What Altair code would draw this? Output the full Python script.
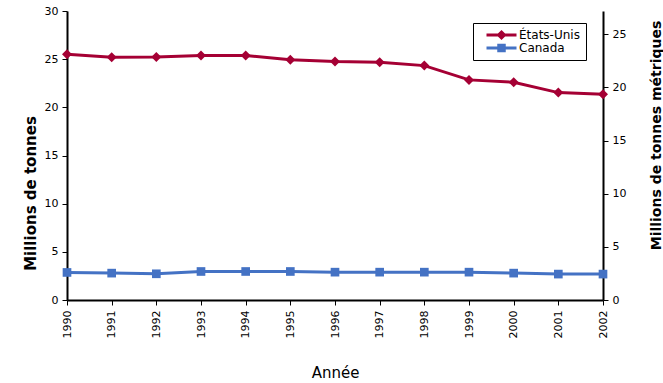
import altair as alt
import pandas as pd

# Annual values in millions of short tons
years = [1990, 1991, 1992, 1993, 1994, 1995, 1996, 1997, 1998, 1999, 2000, 2001, 2002]
us_tons = [25.5, 25.2, 25.23, 25.37, 25.37, 24.95, 24.75, 24.68, 24.33, 22.85, 22.6, 21.53, 21.36]
canada_tons = [2.86, 2.79, 2.72, 2.96, 2.96, 2.96, 2.89, 2.89, 2.89, 2.89, 2.79, 2.69, 2.69]

series_names = ["États-Unis", "Canada"]
series_colors = ["#A50034", "#4472C4"]
series_markers = ["diamond", "square"]
marker_sizes = [100, 75]

left_ticks = [0, 5, 10, 15, 20, 25, 30]
right_ticks = [0, 5, 10, 15, 20, 25]
LEFT_MAX = 30      # short tons
RIGHT_MAX = 27.2   # same span in metric tonnes

FONT = "DejaVu Sans"

df = pd.DataFrame({
    "Année": years + years,
    "valeur": us_tons + canada_tons,
    "série": [series_names[0]] * len(years) + [series_names[1]] * len(years),
})

x_enc = alt.X(
    "Année:Q",
    scale=alt.Scale(domain=[years[0], years[-1]], nice=False, zero=False),
    axis=alt.Axis(
        values=years, format="d", labelAngle=270, labelPadding=5,
        title="Année", titleFontSize=15, titleFontWeight="normal",
        titleY=72, titleBaseline="middle",
    ),
)

y_enc = alt.Y(
    "valeur:Q",
    scale=alt.Scale(domain=[0, LEFT_MAX], nice=False),
    axis=alt.Axis(
        values=left_ticks, labelPadding=4,
        title="Millions de tonnes", titleFontSize=15, titleFontWeight="bold",
        titleAngle=270, titleAlign="center", titleBaseline="middle",
        titleX=-37, titleY=182,
    ),
)

base = alt.Chart(df)

# One line layer and one marker layer per series
series_layers = []
for name, col in zip(series_names, series_colors):
    sub = base.transform_filter(alt.datum["série"] == name)
    series_layers.append(sub.mark_line(strokeWidth=3, color=col).encode(x=x_enc, y=y_enc))
for name, col, marker, msize in zip(series_names, series_colors, series_markers, marker_sizes):
    sub = base.transform_filter(alt.datum["série"] == name)
    series_layers.append(
        sub.mark_point(shape=marker, filled=True, size=msize, opacity=1, color=col).encode(x=x_enc, y=y_enc)
    )

# Legend symbols: a line segment with the series marker in the middle
legend_shapes = [
    "M-3,0L3,0M0,-0.6L0.6,0L0,0.6L-0.6,0Z",
    "M-3,0L3,0M-0.55,-0.55L0.55,-0.55L0.55,0.55L-0.55,0.55Z",
]
legend_def = alt.Legend(
    title=None, orient="none", legendX=406, legendY=12,
    padding=6, symbolSize=100, symbolStrokeWidth=3, symbolOpacity=1,
    symbolOffset=16, labelOffset=11, rowPadding=1, clipHeight=12,
    labelFont=FONT, labelFontSize=12, labelColor="black",
    strokeColor="black", fillColor="white",
)
# Zero-size marks that only carry the legend
legend_layer = base.mark_point(filled=True, size=0).encode(
    x=x_enc, y=y_enc,
    fill=alt.Fill("série:N", scale=alt.Scale(domain=series_names, range=series_colors), legend=legend_def),
    stroke=alt.Stroke("série:N", scale=alt.Scale(domain=series_names, range=series_colors), legend=legend_def),
    shape=alt.Shape("série:N", scale=alt.Scale(domain=series_names, range=legend_shapes), legend=legend_def),
)

left = alt.layer(*series_layers, legend_layer)

# Secondary axis in metric tonnes
right = alt.Chart(pd.DataFrame({"t": right_ticks})).mark_point(opacity=0).encode(
    y=alt.Y(
        "t:Q",
        scale=alt.Scale(domain=[0, RIGHT_MAX], nice=False),
        axis=alt.Axis(
            orient="right", values=right_ticks, labelPadding=4,
            title="Millions de tonnes métriques", titleFontSize=14, titleFontWeight="bold",
            titleAngle=270, titleAlign="center", titleBaseline="middle",
            titleX=53, titleY=124,
        ),
    )
)

chart = alt.layer(left, right).resolve_scale(y="independent").properties(
    width=536, height=289,
    autosize=alt.AutoSizeParams(type="none"),
    padding={"left": 67, "top": 11, "right": 60, "bottom": 83},
    background="white",
).configure_view(stroke=None).configure_axis(
    grid=False,
    labelFont=FONT, labelFontSize=11, labelColor="black",
    titleFont=FONT, titleColor="black",
    domainColor="black", domainWidth=2,
    tickColor="black", tickSize=5, tickWidth=1,
)

chart.save("out.html", embed_options={"renderer": "svg", "actions": False})
